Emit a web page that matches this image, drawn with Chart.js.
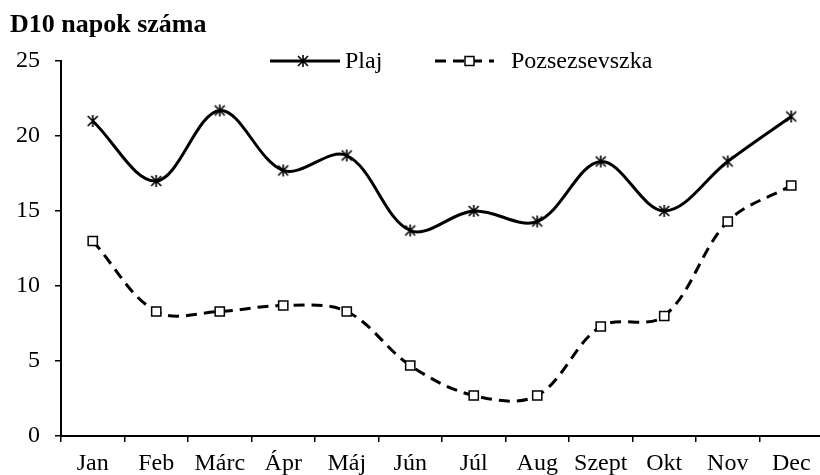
<!DOCTYPE html>
<html>
<head>
<meta charset="utf-8">
<script src="https://cdn.jsdelivr.net/npm/chart.js@4"></script>
<style>
  html, body { margin: 0; padding: 0; background: #fff; overflow: hidden; }
  #wrap { width: 820px; height: 475px; overflow: hidden; }
  #chart { display: block; }
</style>
</head>
<body>
<div id="wrap"><canvas id="chart" width="832" height="475"></canvas></div>
<script>
// D10 napok száma - havi bontás
const honapok = ['Jan', 'Feb', 'Márc', 'Ápr', 'Máj', 'Jún', 'Júl', 'Aug', 'Szept', 'Okt', 'Nov', 'Dec'];
const plaj = [21, 17, 21.7, 17.7, 18.7, 13.7, 15, 14.3, 18.3, 15, 18.3, 21.3];
const pozsezsevszka = [13, 8.3, 8.3, 8.7, 8.3, 4.7, 2.7, 2.7, 7.3, 8, 14.3, 16.7];
const yMin = 0, yMax = 25, yStep = 5;

const cimSzoveg = 'D10 napok száma';
const sorozatNevek = ['Plaj', 'Pozsezsevszka'];

const FONT = '"Liberation Serif", "Times New Roman", serif';

// csillag jelölő (Excel stílus: X + függőleges vonal)
function csillag() {
    const c = document.createElement('canvas');
    c.width = 14; c.height = 14;
    const g = c.getContext('2d');
    g.strokeStyle = '#000';
    g.lineWidth = 1.6;
    g.beginPath();
    g.moveTo(2, 2); g.lineTo(12, 12);
    g.moveTo(12, 2); g.lineTo(2, 12);
    g.moveTo(7, 1); g.lineTo(7, 13);
    g.stroke();
    return c;
}
const starImg = csillag();

// cím + jelmagyarázat kézzel rajzolva
const fejlec = {
    id: 'fejlec',
    afterDraw(chart) {
        const ctx = chart.ctx;
        ctx.save();
        ctx.fillStyle = '#000';
        ctx.font = 'bold 26px ' + FONT;
        ctx.textBaseline = 'alphabetic';
        ctx.textAlign = 'left';
        ctx.fillText(cimSzoveg, 10, 32);

        const ly = 61;
        ctx.font = '24px ' + FONT;
        ctx.textBaseline = 'middle';

        // Plaj
        ctx.strokeStyle = '#000';
        ctx.lineWidth = 3;
        ctx.setLineDash([]);
        ctx.beginPath();
        ctx.moveTo(270, ly); ctx.lineTo(340, ly);
        ctx.stroke();
        ctx.drawImage(starImg, 303 - 7, ly - 7);
        ctx.fillText(sorozatNevek[0], 345, ly + 1);

        // Pozsezsevszka
        ctx.setLineDash([11, 7]);
        ctx.beginPath();
        ctx.moveTo(435, ly); ctx.lineTo(494, ly);
        ctx.stroke();
        ctx.setLineDash([]);
        ctx.fillStyle = '#fff';
        ctx.fillRect(465, ly - 4.5, 9, 9);
        ctx.lineWidth = 1.5;
        ctx.strokeRect(465, ly - 4.5, 9, 9);
        ctx.fillStyle = '#000';
        ctx.fillText(sorozatNevek[1], 511, ly + 1);
        ctx.restore();
    }
};

new Chart(document.getElementById('chart'), {
    type: 'line',
    data: {
        labels: honapok,
        datasets: [{
            label: sorozatNevek[0],
            data: plaj,
            borderColor: '#000',
            borderWidth: 3,
            tension: 0.35,
            pointStyle: starImg,
            pointRadius: 6,
            fill: false
        }, {
            label: sorozatNevek[1],
            data: pozsezsevszka,
            borderColor: '#000',
            borderWidth: 3,
            borderDash: [11, 7],
            tension: 0.35,
            pointStyle: 'rect',
            pointRadius: 6.5,
            pointBorderWidth: 1.5,
            pointBackgroundColor: '#fff',
            pointBorderColor: '#000',
            fill: false
        }]
    },
    options: {
        responsive: false,
        animation: false,
        layout: { padding: { top: 61, left: 0, right: 0, bottom: 0 } },
        plugins: {
            legend: { display: false },
            title: { display: false },
            tooltip: { enabled: false }
        },
        scales: {
            x: {
                offset: true,
                grid: {
                    offset: true,
                    drawOnChartArea: false,
                    drawTicks: true,
                    tickLength: 6,
                    color: '#000',
                    lineWidth: 1.5
                },
                border: { display: true, color: '#000', width: 2 },
                ticks: {
                    color: '#000',
                    font: { family: FONT, size: 24 },
                    padding: 7,
                    maxRotation: 0,
                    autoSkip: false
                },
                afterFit(axis) { axis.height = 39; }
            },
            y: {
                min: yMin,
                max: yMax,
                grid: {
                    drawOnChartArea: false,
                    drawTicks: true,
                    tickLength: 6,
                    color: '#000',
                    lineWidth: 1.5
                },
                border: { display: true, color: '#000', width: 2 },
                ticks: {
                    stepSize: yStep,
                    color: '#000',
                    font: { family: FONT, size: 24 },
                    padding: 15
                },
                afterFit(axis) { axis.width = 61; }
            }
        }
    },
    plugins: [fejlec]
});
</script>
</body>
</html>
